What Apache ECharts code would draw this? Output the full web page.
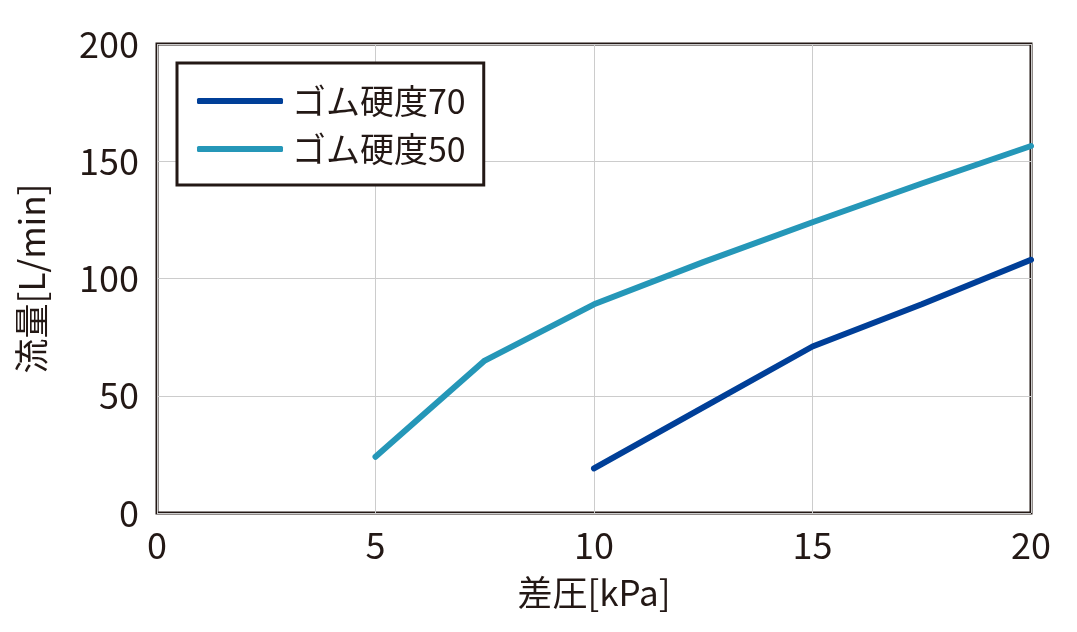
<!DOCTYPE html>
<html><head><meta charset="utf-8">
<script src="https://cdn.jsdelivr.net/npm/echarts@6/dist/echarts.min.js"></script>
<style>html,body{margin:0;padding:0;background:#fff}#c{width:1077px;height:632px}</style>
</head><body><div id="c"></div>
<script>
const xValues70 = [10, 12.5, 15, 17.5, 20];
const yValues70 = [19, 45, 71, 89, 108];
const xValues50 = [5, 7.5, 10, 12.5, 15, 17.5, 20];
const yValues50 = [24, 65, 89, 107, 124, 140.5, 156.5];
const seriesNames = ['ゴム硬度70', 'ゴム硬度50'];
const xTicks = [0, 5, 10, 15, 20];
const yTicks = [0, 50, 100, 150, 200];

const font = '"Noto Sans CJK JP", "Noto Sans", sans-serif';
const chart = echarts.init(document.getElementById('c'));
chart.setOption({
  animation: false,
  grid: { left: 157, top: 44, width: 874, height: 469, show: true, borderColor: '#231815', borderWidth: 3, backgroundColor: 'transparent' },
  legend: {
    left: 177, top: 63, orient: 'vertical',
    data: seriesNames,
    borderColor: '#231815', borderWidth: 3,
    padding: [20, 18, 18, 20],
    itemGap: 12, itemWidth: 86, itemHeight: 6,
    icon: 'roundRect',
    textStyle: { fontFamily: font, fontSize: 34, lineHeight: 36, color: '#231815', padding: [0, 0, 0, 4] },
    backgroundColor: '#fff'
  },
  xAxis: {
    type: 'value', min: 0, max: 20, interval: 5,
    name: '差圧[kPa]', nameLocation: 'middle', nameGap: 62,
    nameTextStyle: { fontFamily: font, fontSize: 35, color: '#231815' },
    axisLine: { show: false }, axisTick: { show: false },
    axisLabel: { fontFamily: font, fontSize: 36, color: '#231815', margin: 14,
      formatter: v => xTicks.includes(v) ? String(v) : '' },
    splitLine: { show: true, lineStyle: { color: '#cccccc', width: 1 } }
  },
  yAxis: {
    type: 'value', min: 0, max: 200, interval: 50,
    name: '流量[L/min]', nameLocation: 'middle', nameGap: 108, nameRotate: 90,
    nameTextStyle: { fontFamily: font, fontSize: 35, color: '#231815' },
    axisLine: { show: false }, axisTick: { show: false },
    axisLabel: { fontFamily: font, fontSize: 36, color: '#231815', margin: 18,
      formatter: v => yTicks.includes(v) ? String(v) : '' },
    splitLine: { show: true, lineStyle: { color: '#cccccc', width: 1 } }
  },
  series: [
    { name: seriesNames[0], type: 'line', showSymbol: false, symbol: 'none',
      data: xValues70.map((x, i) => [x, yValues70[i]]),
      lineStyle: { color: '#003f98', width: 6, cap: 'round' }, itemStyle: { color: '#003f98' } },
    { name: seriesNames[1], type: 'line', showSymbol: false, symbol: 'none',
      data: xValues50.map((x, i) => [x, yValues50[i]]),
      lineStyle: { color: '#2597b8', width: 6, cap: 'round' }, itemStyle: { color: '#2597b8' } }
  ]
});
</script></body></html>
